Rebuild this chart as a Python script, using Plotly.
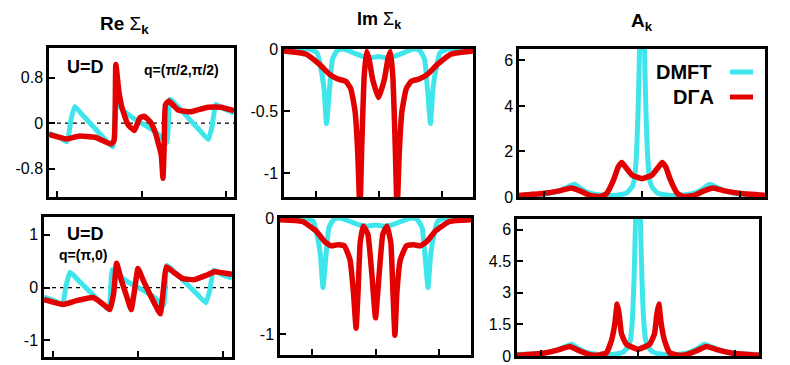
import plotly.graph_objects as go

# DMFT curves (k-independent self-energy, same in both rows)
dmft_re_w = [-2.2, -1.95, -1.77, -1.68, -1.59, -1.4, -1.1, -0.85, -0.68, -0.6, -0.4, -0.2, 0,
             0.2, 0.4, 0.6, 0.68, 0.85, 1.1, 1.4, 1.59, 1.68, 1.77, 1.95, 2.2]
dmft_re = [-0.18, -0.25, -0.33, 0.05, 0.29, 0.14, -0.1, -0.3, -0.42, 0.34, 0.2, 0.09, 0,
           -0.09, -0.2, -0.34, 0.42, 0.3, 0.1, -0.14, -0.29, -0.05, 0.33, 0.25, 0.18]

dmft_im_w = [-3, -2.2, -1.95, -1.84, -1.73, -1.65, -1.57, -1.46, -1.3, -1.1, -0.8, -0.5, -0.25, 0,
             0.25, 0.5, 0.8, 1.1, 1.3, 1.46, 1.57, 1.65, 1.73, 1.84, 1.95, 2.2, 3]
dmft_im = [0, 0, -0.03, -0.14, -0.32, -0.6, -0.37, -0.08, -0.01, 0, -0.03, -0.06, -0.07, -0.06,
           -0.07, -0.06, -0.03, 0, -0.01, -0.08, -0.37, -0.6, -0.32, -0.14, -0.03, 0, 0]

dmft_a_w = [-2.5, -2.2, -1.9, -1.65, -1.5, -1.37, -1.25, -1.1, -0.9, -0.6, -0.4, -0.3, -0.2, -0.16,
            -0.13, -0.1, -0.08, -0.06, -0.04, 0, 0.04, 0.06, 0.08, 0.1, 0.13, 0.16, 0.2, 0.3, 0.4,
            0.6, 0.9, 1.1, 1.25, 1.37, 1.5, 1.65, 1.9, 2.2, 2.5]
dmft_a = [0.07, 0.1, 0.15, 0.3, 0.45, 0.56, 0.38, 0.2, 0.1, 0.07, 0.12, 0.2, 0.45, 0.74,
          1.3, 2.5, 3.8, 5.5, 7.5, 9, 7.5, 5.5, 3.8, 2.5, 1.3, 0.74, 0.45, 0.2, 0.12,
          0.07, 0.1, 0.2, 0.38, 0.56, 0.45, 0.3, 0.15, 0.1, 0.07]

# DGA, q=(pi/2,pi/2)
dga1_re_w = [-2.2, -1.78, -1.5, -1.1, -0.72, -0.65, -0.61, -0.54, -0.46, -0.32, -0.17, -0.04, 0.06,
             0.2, 0.32, 0.47, 0.51, 0.54, 0.57, 0.65, 0.87, 1.18, 1.58, 1.89, 2.2]
dga1_re = [-0.2, -0.28, -0.23, -0.25, -0.37, -0.3, 1.03, 0.56, 0.26, -0.03, -0.13, 0.09, 0.12,
           0.03, -0.15, -0.56, -0.97, -0.4, 0.32, 0.39, 0.23, 0.2, 0.28, 0.28, 0.22]

dga1_im_w = [-3, -2.31, -1.89, -1.57, -1.31, -1.04, -0.88, -0.74, -0.66, -0.59, -0.53, -0.46, -0.38,
             -0.3, -0.19, -0.1, 0, 0.1, 0.19, 0.3, 0.38, 0.46, 0.53, 0.59, 0.66, 0.74, 0.88, 1.04,
             1.31, 1.57, 1.89, 2.31, 3]
dga1_im = [-0.015, -0.04, -0.12, -0.2, -0.24, -0.26, -0.32, -0.51, -0.83, -1.3, -0.77, -0.24, -0.02,
           -0.08, -0.24, -0.32, -0.39, -0.32, -0.24, -0.08, -0.02, -0.24, -0.77, -1.3, -0.83, -0.51,
           -0.32, -0.26, -0.24, -0.2, -0.12, -0.04, -0.015]

dga1_a_w = [-2.5, -2.02, -1.68, -1.44, -1.26, -1.06, -0.85, -0.72, -0.58, -0.48, -0.41, -0.34, -0.2, 0,
            0.2, 0.34, 0.41, 0.48, 0.58, 0.72, 0.85, 1.06, 1.26, 1.44, 1.68, 2.02, 2.5]
dga1_a = [0.07, 0.15, 0.27, 0.4, 0.27, 0.07, 0.02, 0.15, 0.74, 1.33, 1.52, 1.33, 0.96, 0.81,
          0.96, 1.33, 1.52, 1.33, 0.74, 0.15, 0.02, 0.07, 0.27, 0.4, 0.27, 0.15, 0.07]

# DGA, q=(pi,0)
dga2_re_w = [-2.2, -1.75, -1.44, -1.05, -0.78, -0.66, -0.57, -0.5, -0.39, -0.26, -0.16, -0.08, 0,
             0.12, 0.31, 0.43, 0.52, 0.6, 0.66, 0.82, 1.05, 1.32, 1.59, 1.79, 2.2]
dga2_re = [-0.23, -0.32, -0.25, -0.19, -0.34, -0.42, -0.11, 0.46, 0.14, -0.18, -0.42, -0.05, 0.36,
           0.14, -0.18, -0.37, -0.5, 0.01, 0.39, 0.3, 0.17, 0.15, 0.23, 0.3, 0.25]

dga2_im_w = [-3, -2.29, -1.87, -1.61, -1.4, -1.19, -0.98, -0.8, -0.69, -0.61, -0.55, -0.48, -0.38,
             -0.24, -0.11, 0, 0.11, 0.23, 0.36, 0.48, 0.55, 0.61, 0.67, 0.78, 0.97, 1.2, 1.41,
             1.62, 1.89, 2.32, 3]
dga2_im = [-0.015, -0.03, -0.11, -0.2, -0.24, -0.23, -0.24, -0.36, -0.65, -0.95, -0.65, -0.21, -0.07,
           -0.14, -0.5, -0.86, -0.5, -0.14, -0.07, -0.21, -0.65, -1.01, -0.65, -0.36, -0.24, -0.23,
           -0.24, -0.2, -0.11, -0.03, -0.015]

dga2_a_w = [-2.5, -1.96, -1.65, -1.41, -1.2, -0.96, -0.79, -0.65, -0.55, -0.48, -0.43, -0.39, -0.34,
            -0.24, 0, 0.24, 0.34, 0.39, 0.43, 0.48, 0.55, 0.65, 0.79, 0.96, 1.2, 1.41, 1.65, 1.96, 2.5]
dga2_a = [0.03, 0.13, 0.29, 0.45, 0.24, 0.05, 0.05, 0.16, 0.72, 1.51, 2.47, 2.0, 1.04,
          0.56, 0.32, 0.56, 1.04, 2.0, 2.47, 1.51, 0.72, 0.16, 0.05, 0.05, 0.24, 0.45, 0.29, 0.13, 0.03]

CYAN = "#3EE6EC"
RED = "#E20000"
W, H = 790, 365
OFF = 8  # the page body margin pushes the figure 8px right and down
FONT = "Liberation Sans, Arial, sans-serif"


def px_x(px):
    return (px - OFF) / W


def px_y(py):
    return 1 - (py - OFF) / H


fig = go.Figure()

panels = [
    (dmft_re_w, dmft_re, dga1_re_w, dga1_re),
    (dmft_im_w, dmft_im, dga1_im_w, dga1_im),
    (dmft_a_w, dmft_a, dga1_a_w, dga1_a),
    (dmft_re_w, dmft_re, dga2_re_w, dga2_re),
    (dmft_im_w, dmft_im, dga2_im_w, dga2_im),
    (dmft_a_w, dmft_a, dga2_a_w, dga2_a),
]
for i, (cw, cy, rw, ry) in enumerate(panels):
    n = "" if i == 0 else str(i + 1)
    fig.add_trace(go.Scatter(x=cw, y=cy, mode="lines", xaxis="x" + n, yaxis="y" + n,
                             line=dict(color=CYAN, width=5, shape="spline", smoothing=0.4),
                             showlegend=False))
    fig.add_trace(go.Scatter(x=rw, y=ry, mode="lines", xaxis="x" + n, yaxis="y" + n,
                             line=dict(color=RED, width=5.5, shape="spline", smoothing=0.4),
                             showlegend=False))

# panel boxes in screen pixels: left, right, top, bottom
boxes = [(49, 234, 48, 197), (284, 473, 49, 197), (519, 765, 49, 197),
         (44, 232, 217, 357), (280, 471, 218, 355), (517, 759, 219, 356)]
xranges = [[-2.2, 2.2], [-3, 3], [-2.5, 2.5], [-2.2, 2.2], [-3, 3], [-2.5, 2.5]]
yranges = [[-1.3, 1.32], [-1.19, 0], [0, 6.5], [-1.32, 1.34], [-1.18, 0], [0, 6.5]]
yticks = [([-0.8, 0, 0.8], ["-0.8", "0", "0.8"]),
          ([-1, -0.5, 0], ["-1", "-0.5", "0"]),
          ([0, 2, 4, 6], ["0", "2", "4", "6"]),
          ([-1, 0, 1], ["-1", "0", "1"]),
          ([-1, 0], ["-1", "0"]),
          ([0, 1.5, 3, 4.5, 6], ["0", "1.5", "3", "4.5", "6"])]

axis_common = dict(showline=True, mirror=True, linecolor="black", linewidth=2.5,
                   showgrid=False, zeroline=False, ticks="inside", ticklen=6,
                   tickwidth=2, tickcolor="black", automargin=False)
layout = {}
for i, (l, r, t, b) in enumerate(boxes):
    n = "" if i == 0 else str(i + 1)
    layout["xaxis" + n] = dict(axis_common, domain=[px_x(l), px_x(r)], range=xranges[i],
                               anchor="y" + n, tickvals=[-2, 0, 2], showticklabels=False)
    layout["yaxis" + n] = dict(axis_common, domain=[px_y(b), px_y(t)], range=yranges[i],
                               anchor="x" + n, tickvals=yticks[i][0], ticktext=yticks[i][1],
                               tickfont=dict(family=FONT, size=16, color="black"))
fig.update_layout(**layout)

# dashed zero line in the Re panels
for n in ["", "4"]:
    fig.add_shape(type="line", xref="x" + n + " domain", yref="y" + n, x0=0, x1=1, y0=0, y1=0,
                  line=dict(color="black", width=1.3, dash="4px,4px"), layer="below")


def text(s, px, py, size, anchor="center"):
    fig.add_annotation(text=s, x=px_x(px), y=px_y(py), xref="paper", yref="paper",
                       showarrow=False, xanchor=anchor, yanchor="middle",
                       font=dict(family=FONT, size=size, color="black"))


text("<b>Re</b> Σ<sub><b>k</b></sub>", 124, 25, 19)
text("<b>Im</b> Σ<sub><b>k</b></sub>", 379, 21, 18)
text("<b>A<sub>k</sub></b>", 642, 22, 19)
text("<b>U=D</b>", 85, 67, 18)
text("<b>q=(π/2,π/2)</b>", 181, 70, 14)
text("<b>U=D</b>", 85, 234, 18)
text("<b>q=(π,0)</b>", 83, 255, 14)

# legend inside the A panel
text("<b>DMFT</b>", 714, 72, 20, "right")
text("<b>DΓA</b>", 716, 97, 20, "right")
for py, col in [(72, CYAN), (97, RED)]:
    fig.add_shape(type="line", xref="paper", yref="paper", x0=px_x(730), x1=px_x(753),
                  y0=px_y(py), y1=px_y(py), line=dict(color=col, width=5))

fig.update_layout(width=W, height=H, margin=dict(l=0, r=0, t=0, b=0, pad=0),
                  paper_bgcolor="white", plot_bgcolor="white", showlegend=False)

fig.write_html("out.html")
